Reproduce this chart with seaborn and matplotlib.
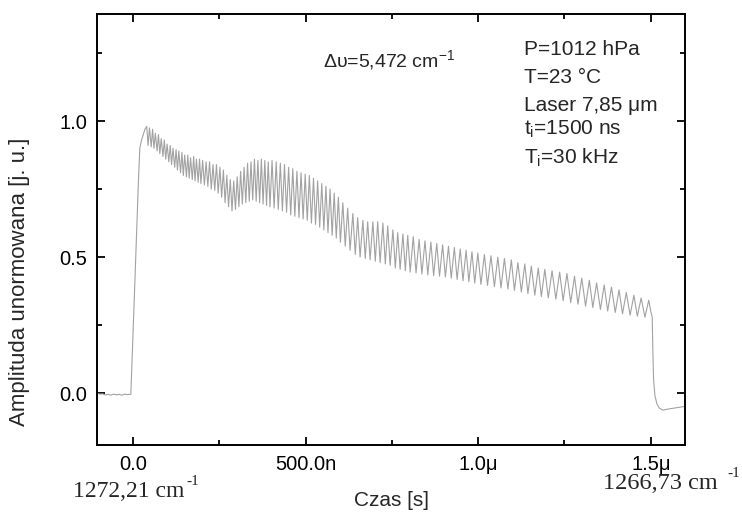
import pandas as pd
import matplotlib.pyplot as plt
import seaborn as sns
from matplotlib.ticker import MultipleLocator, FixedLocator, FixedFormatter

# baseline, rising edge and falling edge (time in ns, normalised amplitude)
edge_t = [-104, -95, -88, -80, -72, -64, -56, -48, -40, -32, -24, -16, -10, -6,
          -3, 0, 3, 6, 9, 12, 16, 20, 25, 30, 35,
          1500, 1504, 1506, 1508, 1512, 1518, 1525, 1535, 1550, 1570, 1590, 1600]
edge_v = [0.0, -0.003, -0.002, -0.006, -0.004, -0.007, -0.003, -0.006, -0.004, -0.007, -0.003, -0.005, -0.004, -0.004,
          0.10, 0.20, 0.30, 0.42, 0.53, 0.63, 0.78, 0.90, 0.93, 0.95, 0.97,
          0.30, 0.28, 0.15, 0.05, -0.01, -0.04, -0.055, -0.062, -0.058, -0.054, -0.05, -0.048]

# fringe maxima
peak_t = [40, 48, 57, 65, 74, 82, 91, 99, 108, 116, 125, 133, 142, 150, 159, 167, 176, 184, 193,
          202, 212, 222, 232, 242, 252, 262, 272, 282, 292, 302, 312, 322, 332, 342, 352, 362, 372, 382, 392,
          403, 415, 427, 439, 451, 463, 475, 487, 499, 511, 523, 535, 547, 559, 571, 583, 595,
          608, 622, 637, 651, 666, 680, 695, 709, 724, 738, 753, 767, 782, 796,
          812, 829, 846, 863, 880, 897, 914, 931, 948, 965, 982, 999,
          1018, 1037, 1057, 1076, 1096, 1115, 1135, 1154, 1174, 1193,
          1214, 1236, 1257, 1279, 1300, 1322, 1343, 1365, 1386, 1408, 1429, 1451, 1472, 1494]
peak_v = [0.98, 0.975, 0.97, 0.955, 0.95, 0.935, 0.93, 0.915, 0.91, 0.90, 0.895, 0.89, 0.885, 0.875, 0.875, 0.865, 0.87, 0.86, 0.86,
          0.855, 0.85, 0.85, 0.84, 0.84, 0.83, 0.82, 0.80, 0.785, 0.78, 0.795, 0.815, 0.83, 0.845, 0.85, 0.86, 0.855, 0.86, 0.855, 0.85,
          0.855, 0.85, 0.845, 0.84, 0.83, 0.825, 0.815, 0.81, 0.805, 0.80, 0.79, 0.78, 0.77, 0.76, 0.75, 0.735, 0.72,
          0.70, 0.68, 0.66, 0.645, 0.635, 0.63, 0.63, 0.63, 0.625, 0.615, 0.60, 0.59, 0.585, 0.58,
          0.575, 0.565, 0.56, 0.555, 0.55, 0.545, 0.54, 0.535, 0.53, 0.525, 0.52, 0.515,
          0.51, 0.505, 0.50, 0.495, 0.49, 0.48, 0.475, 0.467, 0.46, 0.455,
          0.45, 0.445, 0.44, 0.43, 0.423, 0.415, 0.405, 0.398, 0.39, 0.38, 0.37, 0.36, 0.35, 0.342]

# fringe minima
trough_t = [44, 53, 61, 70, 78, 87, 95, 104, 112, 121, 129, 138, 146, 155, 163, 172, 180, 189, 197,
            207, 217, 227, 237, 247, 257, 267, 277, 287, 297, 307, 317, 327, 337, 347, 357, 367, 377, 387, 397,
            409, 421, 433, 445, 457, 469, 481, 493, 505, 517, 529, 541, 553, 565, 577, 589, 601,
            615, 629, 644, 658, 673, 687, 702, 716, 731, 745, 760, 774, 789, 803,
            820, 837, 854, 871, 888, 905, 922, 939, 956, 973, 990, 1008,
            1027, 1047, 1066, 1086, 1105, 1125, 1144, 1164, 1183, 1203,
            1225, 1246, 1268, 1289, 1311, 1332, 1354, 1375, 1397, 1418, 1440, 1461, 1483]
trough_v = [0.91, 0.905, 0.90, 0.89, 0.88, 0.87, 0.86, 0.85, 0.84, 0.83, 0.82, 0.81, 0.80, 0.795, 0.79, 0.785, 0.78, 0.775, 0.77,
            0.765, 0.76, 0.75, 0.745, 0.735, 0.72, 0.70, 0.685, 0.67, 0.675, 0.685, 0.695, 0.70, 0.705, 0.71, 0.705, 0.70, 0.695, 0.69, 0.685,
            0.68, 0.675, 0.67, 0.665, 0.655, 0.65, 0.645, 0.64, 0.635, 0.625, 0.62, 0.61, 0.60, 0.59, 0.58, 0.57, 0.555,
            0.54, 0.525, 0.51, 0.50, 0.495, 0.49, 0.485, 0.48, 0.475, 0.47, 0.46, 0.455, 0.45, 0.445,
            0.442, 0.438, 0.435, 0.432, 0.43, 0.427, 0.423, 0.418, 0.413, 0.41, 0.405, 0.40,
            0.396, 0.392, 0.387, 0.383, 0.378, 0.372, 0.366, 0.36, 0.355, 0.35,
            0.346, 0.34, 0.333, 0.327, 0.32, 0.315, 0.308, 0.302, 0.297, 0.292, 0.287, 0.283, 0.279]

x_ticks = [0, 500, 1000, 1500]
x_tick_labels = ["0.0", "500.0n", "1.0\u03bc", "1.5\u03bc"]
y_ticks = [0.0, 0.5, 1.0]
y_tick_labels = ["0.0", "0.5", "1.0"]

sns.set_style("ticks")
plt.rcParams["font.family"] = ["Liberation Sans", "DejaVu Sans"]
plt.rcParams["mathtext.fontset"] = "custom"
plt.rcParams["mathtext.rm"] = "Liberation Sans"
plt.rcParams["mathtext.it"] = "Liberation Sans:italic"
plt.rcParams["mathtext.default"] = "rm"

signal = pd.concat([
    pd.DataFrame({"t": edge_t, "amp": edge_v}),
    pd.DataFrame({"t": peak_t, "amp": peak_v}),
    pd.DataFrame({"t": trough_t, "amp": trough_v}),
]).sort_values("t").reset_index(drop=True)

W, H = 742, 513
fig = plt.figure(figsize=(W / 100, H / 100), dpi=100)
ax = fig.add_axes([97 / W, 68 / H, 588 / W, 431 / H])

sns.lineplot(data=signal, x="t", y="amp", ax=ax, color="#a2a2a2", lw=0.8,
             estimator=None, sort=False)

ax.set_xlim(-104, 1599)
ax.set_ylim(-0.19, 1.393)
ax.xaxis.set_major_locator(FixedLocator(x_ticks))
ax.xaxis.set_major_formatter(FixedFormatter(x_tick_labels))
ax.xaxis.set_minor_locator(MultipleLocator(250))
ax.yaxis.set_major_locator(FixedLocator(y_ticks))
ax.yaxis.set_major_formatter(FixedFormatter(y_tick_labels))
ax.yaxis.set_minor_locator(MultipleLocator(0.25))
ax.tick_params(which="both", direction="in", top=True, right=True, width=1.3,
               labelsize=14.5, colors="black")
ax.tick_params(which="major", length=6)
ax.tick_params(which="minor", length=3.5)
ax.tick_params(axis="x", pad=7)
ax.tick_params(axis="y", pad=7)
for s in ax.spines.values():
    s.set_linewidth(1.4)
    s.set_color("black")

ax.set_xlabel("")
ax.set_ylabel("")
fig.text(392 / W, 1 - 506 / H, "Czas [s]", ha="center", va="baseline", fontsize=15)
fig.text(20 / W, 1 - 282 / H, "Amplituda unormowana [j. u.]", rotation=90,
         ha="center", va="center", fontsize=16)

# annotations
fig.text(323 / W, 1 - 67 / H, "\u0394\u03c5=5,472 cm$^{-1}$", fontsize=14, va="baseline")
info = [("P=1012 hPa", 55), ("T=23 \u00b0C", 83), ("Laser 7,85 \u03bcm", 111),
        ("t$_{i}$=1500 ns", 135), ("T$_{i}$=30 kHz", 164)]
for txt, yb in info:
    fig.text(524 / W, 1 - yb / H, txt, fontsize=15, va="baseline")

# wavenumber at the ends of the scan
serif = ["Liberation Serif", "DejaVu Serif"]
fig.text(73 / W, 1 - 497 / H, "1272,21 cm", fontsize=17, family=serif, va="baseline")
fig.text(186 / W, 1 - 485 / H, "-1", fontsize=11, family=serif, va="baseline")
fig.text(603 / W, 1 - 489 / H, "1266,73 cm", fontsize=17.5, family=serif, va="baseline")
fig.text(727 / W, 1 - 477 / H, "-1", fontsize=11, family=serif, va="baseline")

fig.savefig("out.png", dpi=100)
